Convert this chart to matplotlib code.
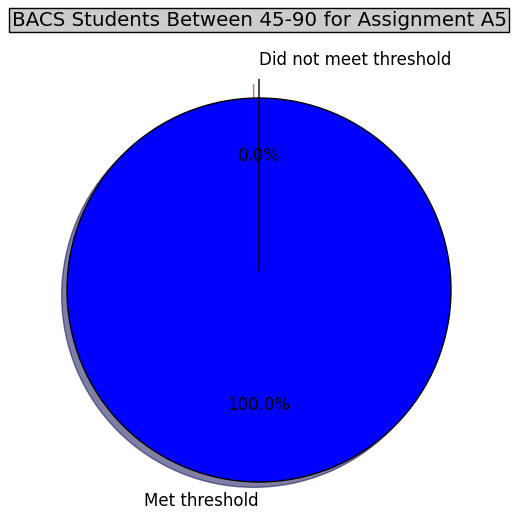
import matplotlib
matplotlib.use("Agg")
import matplotlib.pyplot as plt

labels = ["Met threshold", "Did not meet threshold"]
counts = [100, 0]
colors = ["blue", "red"]
explode = [0, 0.1]

fig = plt.figure(figsize=(5.18, 5.21), dpi=100)
ax = fig.add_axes([0, 0, 1, 1])

wedges, texts, autotexts = ax.pie(
    counts, labels=labels, colors=colors, explode=explode,
    autopct="%1.1f%%", shadow=True, startangle=90,
    wedgeprops={"edgecolor": "black", "linewidth": 1},
    textprops={"fontsize": 12})

# labels sit on the vertical axis; match the reference alignment
texts[0].set_ha("right")
texts[1].set_ha("left")

# place the pie like the reference (radius ~192 px, centre at 259, 290)
ax.set_xlim(-259 / 192, 259 / 192)
ax.set_ylim(-231 / 192, 290 / 192)

fig.text(0.5, 1 - 20 / 521, "BACS Students Between 45-90 for Assignment A5",
         ha="center", va="center", fontsize=14.3,
         bbox={"facecolor": "#cccccc", "edgecolor": "black", "pad": 2})

fig.savefig("out.png", dpi=100)
